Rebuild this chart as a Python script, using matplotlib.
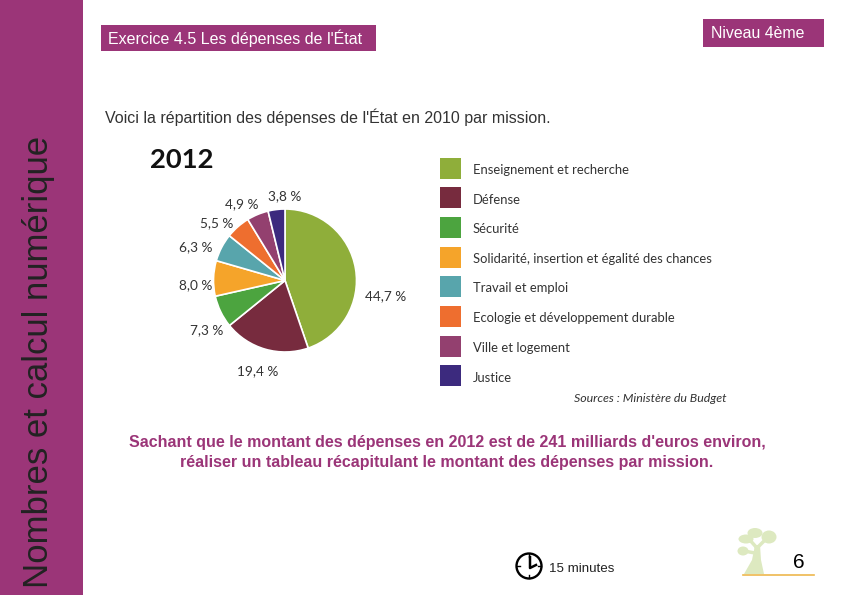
import math
import matplotlib
matplotlib.use("Agg")
import matplotlib.pyplot as plt
from matplotlib.patches import Rectangle, Circle, Polygon, Ellipse

# Pie data, 2012
missions = [
    "Enseignement et recherche",
    "Défense",
    "Sécurité",
    "Solidarité, insertion et égalité des chances",
    "Travail et emploi",
    "Ecologie et développement durable",
    "Ville et logement",
    "Justice",
]
shares = [44.7, 19.4, 7.3, 8.0, 6.3, 5.5, 4.9, 3.8]
share_labels = ["44,7 %", "19,4 %", "7,3 %", "8,0 %", "6,3 %", "5,5 %", "4,9 %", "3,8 %"]
colors = ["#8FAE3A", "#772B3E", "#4CA43F", "#F5A42A", "#58A5AC", "#EE6E2F", "#93406F", "#3C2A7E"]

W, H = 842, 595
PURPLE = "#9B3578"
CALIBRI_LIKE = ["Lato", "DejaVu Sans"]

plt.rcParams["font.family"] = ["Liberation Sans", "DejaVu Sans"]
fig = plt.figure(figsize=(W / 100, H / 100), dpi=100)

# Whole page in pixel coordinates
ax = fig.add_axes([0, 0, 1, 1])
ax.set_xlim(0, W)
ax.set_ylim(H, 0)
ax.axis("off")

# Side band and header boxes
ax.add_patch(Rectangle((0, 0), 83, H, color=PURPLE, lw=0))
ax.text(39, 588, "Nombres et calcul numérique", rotation=90, fontsize=25,
        color="#222222", ha="center", va="bottom")
ax.add_patch(Rectangle((101, 25), 275, 26, color=PURPLE, lw=0))
ax.text(108, 38.5, "Exercice 4.5 Les dépenses de l'État", fontsize=11.5, color="white", va="center")
ax.add_patch(Rectangle((703, 19), 121, 28, color=PURPLE, lw=0))
ax.text(711, 33, "Niveau 4ème", fontsize=11.4, color="white", va="center")
ax.text(105, 117, "Voici la répartition des dépenses de l'État en 2010 par mission.",
        fontsize=11.5, color="#333333", va="center")

# Image part: title, labels, legend
ax.text(150, 160, "2012", fontsize=19.7, fontweight="bold", family=CALIBRI_LIKE,
        color="#111111", va="center")

label_pos = [(386, 296.5), (258, 371.5), (207, 330), (196, 285.5), (196, 247.5), (217, 223), (242, 204), (285, 196.5)]
for lab, (lx, ly) in zip(share_labels, label_pos):
    ax.text(lx, ly, lab, fontsize=9.8, family=CALIBRI_LIKE, color="#333333",
            ha="center", va="center")

legend_y = [170, 199.5, 229, 259, 288.5, 318, 348, 377.5]
for name, col, ly in zip(missions, colors, legend_y):
    ax.add_patch(Rectangle((440, ly - 12.5), 21, 21, color=col, lw=0))
    ax.text(473, ly, name, fontsize=9.4, family=CALIBRI_LIKE, color="#333333", va="center")
ax.text(726, 398, "Sources : Ministère du Budget", fontsize=8.95, style="italic",
        family=CALIBRI_LIKE, color="#333333", ha="right", va="center")

# Question
ax.text(447, 442.5, "Sachant que le montant des dépenses en 2012 est de 241 milliards d'euros environ,",
        fontsize=11.5, fontweight="bold", color=PURPLE, ha="center", va="center")
ax.text(447, 462.5, "réaliser un tableau récapitulant le montant des dépenses par mission.",
        fontsize=11.5, fontweight="bold", color=PURPLE, ha="center", va="center")

# Clock icon
ax.add_patch(Circle((529, 566), 12.5, fc="white", ec="black", lw=1.7))
ax.plot([530, 530, 536], [557, 568, 565], color="black", lw=1.8)
for i in range(4):
    a = math.radians(i * 90)
    ax.plot([529 + 9 * math.cos(a), 529 + 12 * math.cos(a)],
            [566 + 9 * math.sin(a), 566 + 12 * math.sin(a)], color="black", lw=1)
ax.text(549, 569.5, "15 minutes", fontsize=9.6, color="#222222", va="center")

# Tree logo and page number
tree = "#DDE9C0"
ax.add_patch(Polygon([(744, 574), (752, 560), (755, 545), (760, 545), (761, 560), (764, 574)], color=tree, lw=0))
ax.plot([757, 748], [548, 538], color=tree, lw=2.5)
ax.plot([757, 767], [548, 538], color=tree, lw=2.5)
ax.plot([755, 744], [553, 551], color=tree, lw=2.5)
for ex, ey, ew, eh in [(755, 533, 15, 10), (769, 537, 15, 13), (746, 539, 15, 9), (743, 551, 11, 9)]:
    ax.add_patch(Ellipse((ex, ey), ew, eh, color=tree, lw=0))
ax.plot([743, 814], [575, 575], color="#EDB84E", lw=1.2)
ax.text(799, 562, "6", fontsize=15, color="black", ha="center", va="center")

# Pie in its own axes, centre (285, 280.5), radius 71.5
cx, cy, r = 285, 280.5, 71.5
pie_ax = fig.add_axes([(cx - r) / W, 1 - (cy + r) / H, 2 * r / W, 2 * r / H])
pie_ax.pie(shares, colors=colors, startangle=90, counterclock=False, radius=1,
           wedgeprops={"edgecolor": "white", "linewidth": 1.2})
pie_ax.set_xlim(-1, 1)
pie_ax.set_ylim(-1, 1)

fig.savefig("out.png", dpi=100)
